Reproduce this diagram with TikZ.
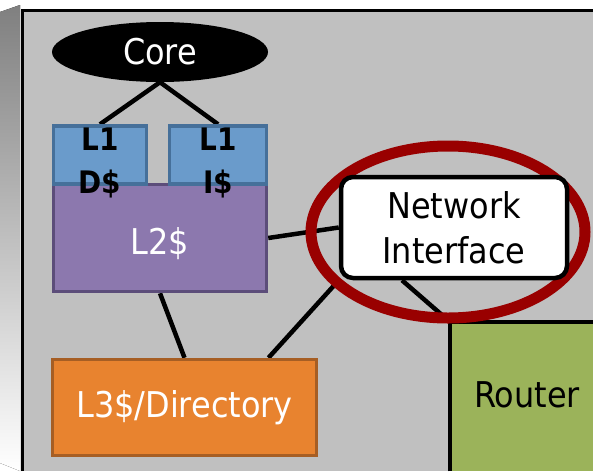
\documentclass[tikz,border=0pt]{standalone}
\usepackage{fontspec}
\setmainfont{DejaVu Sans Condensed}
\usetikzlibrary{shapes.geometric,calc}
\definecolor{bggray}{HTML}{C0C0C0}
\definecolor{shade}{HTML}{C8C8C8}
\definecolor{lonefill}{HTML}{6A9BCB}
\definecolor{loneline}{HTML}{46709A}
\definecolor{ltwofill}{HTML}{8C78AE}
\definecolor{ltwoline}{HTML}{5C4D7A}
\definecolor{lthreefill}{HTML}{E8832F}
\definecolor{lthreeline}{HTML}{A65E24}
\definecolor{routerfill}{HTML}{9BB35A}
\definecolor{ringred}{HTML}{990000}
\pgfdeclarelayer{back}\pgfdeclarelayer{wires}\pgfsetlayers{back,wires,main}
\tikzset{
 box/.style={rectangle, inner sep=0pt, line width=3.5pt},
 wire/.style={line width=4.5pt, black},
 bigtext/.style={font=\fontsize{35.5}{45}\selectfont, inner sep=0pt},
 boldtext/.style={font=\fontsize{31}{43}\selectfont\bfseries, inner sep=0pt, align=center},
}
\begin{document}
\begin{tikzpicture}[x=1pt,y=-1pt]
\useasboundingbox (0,0) rectangle (593,471);
\begin{pgfonlayer}{back}
\fill[white] (0,0) rectangle (593,471);
\fill[shade] (0,12) -- (20,5) -- (20,471) -- (0,463) -- cycle;
\fill[bggray] (22,10) rectangle (593,471);
\draw[line width=3pt] (22,471) -- (22,10) -- (593,10);
\end{pgfonlayer}
\node[ellipse, fill=black, minimum width=216pt, minimum height=60pt, bigtext, text=white] (core) at (160,52) {Core};
\node[box, fill=ltwofill, draw=ltwoline, minimum width=213pt, minimum height=107pt] (l2) at (160,238) {};
\node[box, fill=lonefill, draw=loneline, minimum width=93pt, minimum height=58pt] (l1d) at (100,155) {};
\node[box, fill=lonefill, draw=loneline, minimum width=97pt, minimum height=58pt] (l1i) at (218,155) {};
\node[boldtext] (l1dtext) at (100,163) {L1\\D\$};
\node[boldtext] (l1itext) at (218,163) {L1\\I\$};
\node[bigtext, text=white] (l2text) at (160,244) {L2\$};
\node[box, fill=lthreefill, draw=lthreeline, minimum width=264pt, minimum height=96pt, bigtext, text=white] (l3) at (184.5,407.5) {L3\$/Directory};
\node[fill=routerfill, inner sep=0pt, minimum width=143pt, minimum height=149pt, anchor=north west] (router) at (450,322) {};
\draw[line width=4.5pt] (router.south west) |- (router.north east);
\node[bigtext] (routertext) at (527,395) {Router};
\node[ellipse, draw=ringred, line width=11pt, minimum width=274pt, minimum height=172pt, inner sep=0pt] (ring) at (448,232) {};
\node[rectangle, rounded corners=12pt, draw=black, fill=white, line width=4.5pt, minimum width=226pt, minimum height=101pt, align=center, bigtext] (ni) at (454,227.5) {Network\\Interface};
\begin{pgfonlayer}{wires}
\draw[wire] (core.south) -- (l1d.north);
\draw[wire] (core.south) -- (l1i.north);
\draw[wire] (l2.south) -- (l3.north);
\draw[wire] (l2.east) -- (ni.west);
\draw[wire] (ni.south west) -- ([xshift=84pt]l3.north);
\draw[wire] ([xshift=-52pt]ni.south) -- (router.north west);
\end{pgfonlayer}
\end{tikzpicture}
\end{document}
